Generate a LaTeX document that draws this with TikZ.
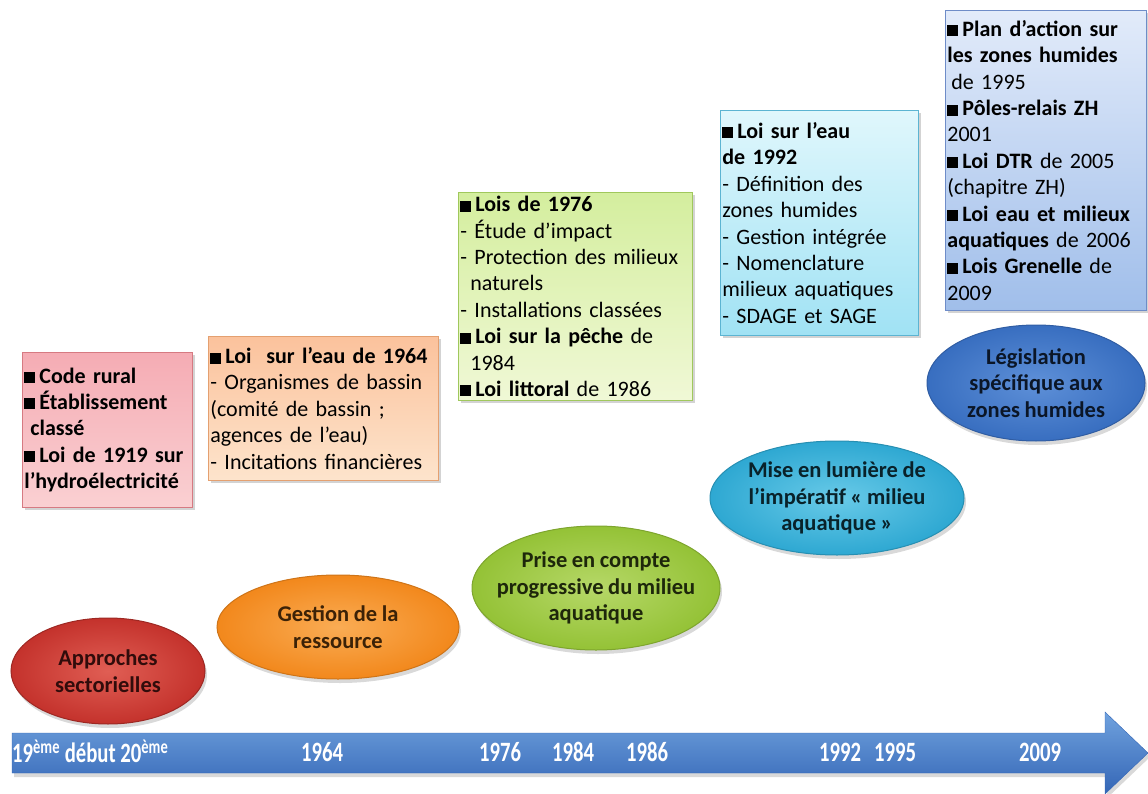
\documentclass[tikz,border=0pt]{standalone}
\usepackage{fontspec}
\setmainfont{Carlito}
\newfontfamily\axisfont[FakeStretch=0.74]{Carlito}
\usetikzlibrary{shapes.geometric,shadows,positioning}
\definecolor{pinkTop}{RGB}{245,172,180}
\definecolor{pinkBot}{RGB}{250,208,210}
\definecolor{pinkEdge}{RGB}{214,122,130}
\definecolor{peachTop}{RGB}{251,194,156}
\definecolor{peachBot}{RGB}{253,228,204}
\definecolor{peachEdge}{RGB}{228,160,112}
\definecolor{limeTop}{RGB}{212,238,158}
\definecolor{limeBot}{RGB}{240,248,214}
\definecolor{limeEdge}{RGB}{160,200,92}
\definecolor{skyTop}{RGB}{224,247,252}
\definecolor{skyBot}{RGB}{160,226,244}
\definecolor{skyEdge}{RGB}{92,180,210}
\definecolor{azurTop}{RGB}{226,235,250}
\definecolor{azurBot}{RGB}{160,190,234}
\definecolor{azurEdge}{RGB}{110,140,200}
\definecolor{redIn}{RGB}{224,94,84}
\definecolor{redOut}{RGB}{196,50,44}
\definecolor{orIn}{RGB}{250,172,84}
\definecolor{orOut}{RGB}{242,136,28}
\definecolor{grIn}{RGB}{182,216,104}
\definecolor{grOut}{RGB}{148,194,54}
\definecolor{cyIn}{RGB}{104,202,232}
\definecolor{cyOut}{RGB}{46,168,210}
\definecolor{blIn}{RGB}{94,144,216}
\definecolor{blOut}{RGB}{56,110,192}
\definecolor{axisTop}{RGB}{112,162,222}
\definecolor{axisBot}{RGB}{52,102,182}
\newcommand{\puce}{\rule{11pt}{11pt}\hspace{4pt}}
\newcommand{\serre}{\spaceskip=4.6pt plus 2pt\relax}

\begin{document}
\begin{tikzpicture}[x=1pt,y=-1pt,
    lawbox/.style={rectangle, anchor=north west, align=left, inner xsep=2pt, inner ysep=0pt,
      font={\fontsize{22}{26.4}\selectfont\serre}, line width=0.8pt,
      drop shadow={opacity=0.35, shadow xshift=3pt, shadow yshift=-3pt}},
    phase/.style={ellipse, inner sep=0pt, line width=1pt,
      drop shadow={opacity=0.3, shadow xshift=2pt, shadow yshift=-4pt}},
    phasetxt/.style={align=center, font={\bfseries\fontsize{22.5}{26.5}\selectfont\serre}},
    year/.style={text=white, font=\axisfont\bfseries\fontsize{28}{30}\selectfont}]
  \useasboundingbox (0,0) rectangle (1148,794);

  % timeline
  \draw[draw=axisBot, top color=axisTop, bottom color=axisBot,
    drop shadow={opacity=0.3, shadow xshift=2pt, shadow yshift=-4pt}]
    (12,733) -- (1105,733) -- (1105,712) -- (1148,753) -- (1105,794) -- (1105,773) -- (12,773) -- cycle;
  \node[year, anchor=west, inner sep=0pt] (y1900) at (12,751) {19\textsuperscript{ème} début 20\textsuperscript{ème}};
  \node[year] (y1964) at (322,752) {1964};
  \node[year] (y1976) at (500,752) {1976};
  \node[year] (y1984) at (573,752) {1984};
  \node[year] (y1986) at (647,752) {1986};
  \node[year] (y1992) at (840,752) {1992};
  \node[year] (y1995) at (895,752) {1995};
  \node[year] (y2009) at (1040,752) {2009};

  % phases
  \node[phase, draw=redOut!80!black, inner color=redIn, outer color=redOut,
    minimum width=194, minimum height=106] (approches) at (108,671) {};
  \node[phasetxt, text=redOut!25!black] (approchestxt) at (approches) {Approches\\sectorielles};
  \node[phase, draw=orOut!85!black, inner color=orIn, outer color=orOut,
    minimum width=242, minimum height=104] (ressource) at (338,627) {};
  \node[phasetxt, text=orOut!25!black] (ressourcetxt) at (ressource) {Gestion de la\\ressource};
  \node[phase, draw=grOut!85!black, inner color=grIn, outer color=grOut,
    minimum width=248, minimum height=124] (progressive) at (596,588) {};
  \node[phasetxt, text=grOut!20!black] (progressivetxt) at (progressive) {Prise en compte\\progressive du milieu\\aquatique};
  \node[phase, draw=cyOut!85!black, inner color=cyIn, outer color=cyOut,
    minimum width=254, minimum height=114] (imperatif) at (837,498) {};
  \node[phasetxt, text=cyOut!20!black] (imperatiftxt) at (imperatif) {Mise en lumière de\\l’impératif « milieu\\aquatique »};
  \node[phase, draw=blOut!85!black, inner color=blIn, outer color=blOut,
    minimum width=218, minimum height=116] (specifique) at (1036,383) {};
  \node[phasetxt, text=blOut!20!black] (specifiquetxt) at (specifique) {Législation\\spécifique aux\\zones humides};

  % laws
  \node[lawbox, draw=pinkEdge, top color=pinkTop, bottom color=pinkBot,
    text width=166, minimum height=155] (sectoriel) at (22,352)
    {\bfseries\puce Code rural\\\puce Établissement\\\hspace*{6pt}classé\\\puce Loi de 1919 sur\\l’hydroélectricité};
  \node[lawbox, draw=peachEdge, top color=peachTop, bottom color=peachBot,
    text width=226, minimum height=144] (eau64) at (208,336)
    {\puce\textbf{Loi\ \ sur l’eau de 1964}\\- Organismes de bassin\\(comité de bassin ;\\agences de l’eau)\\- Incitations financières};
  \node[lawbox, draw=limeEdge, top color=limeTop, bottom color=limeBot,
    text width=230, minimum height=208] (lois76) at (458,192)
    {\puce\textbf{Lois de 1976}\\- Étude d’impact\\- Protection des milieux\\\hspace*{10pt}naturels\\- Installations classées\\\puce\textbf{Loi sur la pêche} de\\\hspace*{10pt}1984\\\puce\textbf{Loi littoral} de 1986};
  \node[lawbox, draw=skyEdge, top color=skyTop, bottom color=skyBot,
    text width=194, minimum height=225] (eau92) at (720,110)
    {\puce\textbf{Loi sur l’eau}\\\textbf{de 1992}\\- Définition des\\zones humides\\- Gestion intégrée\\- Nomenclature\\milieux aquatiques\\- SDAGE et SAGE};
  \node[lawbox, draw=azurEdge, top color=azurTop, bottom color=azurBot,
    text width=197, minimum height=300] (humides) at (945,10)
    {\puce\textbf{Plan d’action sur}\\\textbf{les zones humides}\\\hspace*{4pt}de 1995\\\puce\textbf{Pôles-relais ZH}\\2001\\\puce\textbf{Loi DTR} de 2005\\(chapitre ZH)\\\puce\textbf{Loi eau et milieux}\\\textbf{aquatiques} de 2006\\\puce\textbf{Lois Grenelle} de\\2009};
\end{tikzpicture}
\end{document}
